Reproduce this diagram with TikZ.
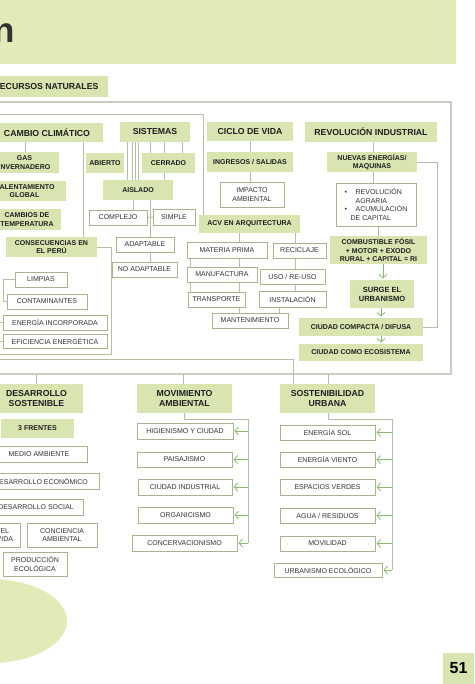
\documentclass[tikz,border=0pt]{standalone}
\usepackage{fontspec}
\setmainfont{Liberation Sans}
\usetikzlibrary{arrows.meta,backgrounds}
\definecolor{hdr}{HTML}{E0EBB8}
\definecolor{gfill}{HTML}{D8E5B0}
\definecolor{bord}{HTML}{A8B48F}
\definecolor{lnc}{HTML}{B4BDA6}
\definecolor{arr}{HTML}{8DB870}
\definecolor{frm}{HTML}{C9CDC2}
\definecolor{txt}{HTML}{1E1E1E}
\tikzset{
 base/.style={inner sep=0pt, outer sep=0pt, align=center, text=txt},
 gA/.style={base, fill=gfill, font=\fontsize{8.7}{10.3}\selectfont\bfseries},
 gB/.style={base, fill=gfill, font=\fontsize{7}{8.4}\selectfont\bfseries},
 wbox/.style={base, fill=white, draw=bord, line width=0.8pt, font=\fontsize{7}{8.6}\selectfont, text=black!80},
 ln/.style={draw=lnc, line width=0.8pt},
 ar/.style={draw=arr, line width=0.8pt, shorten >=1.5pt, -{Straight Barb[length=3.5pt,width=8pt]}},
 frame/.style={draw=frm, line width=1.4pt},
}
\newcommand\BX[7]{\pgfmathsetmacro\bxcx{(#3+#5)/2}\pgfmathsetmacro\bxcy{(#4+#6)/2}\pgfmathsetmacro\bxw{#5-#3}\pgfmathsetmacro\bxh{#6-#4}\node[#1, minimum width=\bxw pt, minimum height=\bxh pt] (#2) at (\bxcx,\bxcy) {#7};}
\begin{document}
\begin{tikzpicture}[x=1pt,y=-1pt]
\useasboundingbox (0,0) rectangle (474,684);
\clip (0,0) rectangle (474,684);
\fill[hdr] (0,0) rectangle (456,64);
\fill[hdr] (-10,621) ellipse [x radius=77, y radius=42];
\node[base, anchor=base west, text=black!80, font=\fontsize{35}{40}\selectfont\bfseries] (title) at (-6,43) {n};
\BX{gA}{RN}{-16}{76}{108}{97}{RECURSOS NATURALES}
% level 1
\BX{gA}{CC}{-9}{123}{103}{142}{CAMBIO CLIMÁTICO}
\BX{gA}{SIS}{120}{122}{190}{142}{SISTEMAS}
\BX{gA}{CIC}{207}{122}{293}{141}{CICLO DE VIDA}
\BX{gA}{REV}{305}{122}{437}{142}{REVOLUCIÓN INDUSTRIAL}
% cambio climatico
\BX{gB}{GAS}{-10}{152}{59}{173}{GAS\\INVERNADERO}
\BX{gB}{CAL}{-17}{181}{66}{201}{CALENTAMIENTO\\GLOBAL}
\BX{gB}{CAM}{-7}{209}{61}{230}{CAMBIOS DE\\TEMPERATURA}
\BX{gB}{CONS}{6}{237}{97}{257}{CONSECUENCIAS EN\\EL PERÚ}
\BX{wbox}{LIM}{15}{272}{67}{287}{LIMPIAS}
\BX{wbox}{CONT}{7}{294}{87}{309}{CONTAMINANTES}
\BX{wbox}{EINC}{3}{315}{107}{330}{ENERGÍA INCORPORADA}
\BX{wbox}{EFI}{3}{334}{107}{348}{EFICIENCIA ENERGÉTICA}
% sistemas
\BX{gB}{ABI}{86}{153}{124}{173}{ABIERTO}
\BX{gB}{CER}{142}{153}{195}{173}{CERRADO}
\BX{gB}{AIS}{103}{180}{173}{200}{AISLADO}
\BX{wbox}{COMP}{89}{210}{147}{225}{COMPLEJO}
\BX{wbox}{SIMP}{153}{209}{195}{225}{SIMPLE}
\BX{wbox}{ADAP}{116}{237}{174}{252}{ADAPTABLE}
\BX{wbox}{NOAD}{112}{262}{177}{277}{NO ADAPTABLE}
% ciclo de vida
\BX{gB}{ING}{207}{152}{293}{172}{INGRESOS / SALIDAS}
\BX{wbox}{IMP}{220}{182}{284}{207}{IMPACTO\\AMBIENTAL}
\BX{gB}{ACV}{199}{215}{300}{233}{ACV EN ARQUITECTURA}
\BX{wbox}{MP}{187}{242}{267}{258}{MATERIA PRIMA}
\BX{wbox}{REC}{273}{243}{326}{258}{RECICLAJE}
\BX{wbox}{MAN}{187}{267}{257}{282}{MANUFACTURA}
\BX{wbox}{USO}{260}{269}{325}{284}{USO / RE-USO}
\BX{wbox}{TRA}{188}{292}{245}{307}{TRANSPORTE}
\BX{wbox}{INS}{259}{291}{326}{307}{INSTALACIÓN}
\BX{wbox}{MANT}{212}{313}{288}{328}{MANTENIMIENTO}
% revolucion industrial
\BX{gB}{NUE}{327}{152}{417}{172}{NUEVAS ENERGÍAS/\\MAQUINAS}
\BX{wbox, align=left}{BUL}{336}{183}{416}{226}{\makebox[11pt][l]{•}REVOLUCIÓN\\\hspace*{11pt}AGRARIA\\\makebox[11pt][l]{•}ACUMULACIÓN\\\hspace*{6pt}DE CAPITAL}
\BX{gB}{COMB}{330}{236}{427}{264}{COMBUSTIBLE FÓSIL\\+ MOTOR + EXODO\\RURAL + CAPITAL = RI}
\BX{gB, font=\fontsize{7.5}{9}\selectfont\bfseries}{SUR}{350}{280}{414}{308}{SURGE EL\\URBANISMO}
\BX{gB}{CCD}{299}{318}{423}{336}{CIUDAD COMPACTA / DIFUSA}
\BX{gB}{ECO}{299}{344}{423}{361}{CIUDAD COMO ECOSISTEMA}
% bottom
\BX{gA}{DS}{-10}{384}{83}{413}{DESARROLLO\\SOSTENIBLE}
\BX{gA}{MA}{137}{384}{232}{413}{MOVIMIENTO\\AMBIENTAL}
\BX{gA}{SU}{280}{384}{375}{413}{SOSTENIBILIDAD\\URBANA}
\BX{gB}{TF}{1}{419}{74}{438}{3 FRENTES}
\BX{wbox}{MED}{-9}{446}{87}{462}{MEDIO AMBIENTE}
\BX{wbox}{DEC}{-17}{473}{99}{489}{DESARROLLO ECONÓMICO}
\BX{wbox}{DSO}{-11}{499}{83}{515}{DESARROLLO SOCIAL}
\BX{wbox}{NIV}{-22}{523}{20}{547}{NIVEL\\DE VIDA}
\BX{wbox}{CON}{27}{523}{97}{547}{CONCIENCIA\\AMBIENTAL}
\BX{wbox}{PRO}{3}{552}{67}{576}{PRODUCCIÓN\\ECOLÓGICA}
\BX{wbox}{HIG}{137}{423}{233}{439}{HIGIENISMO Y CIUDAD}
\BX{wbox}{PAI}{137}{452}{232}{467}{PAISAJISMO}
\BX{wbox}{CIN}{138}{479}{232}{495}{CIUDAD INDUSTRIAL}
\BX{wbox}{ORG}{138}{507}{233}{523}{ORGANICISMO}
\BX{wbox}{CONC}{132}{535}{237}{551}{CONCERVACIONISMO}
\BX{wbox}{SOL}{280}{425}{375}{440}{ENERGÍA SOL}
\BX{wbox}{VIE}{280}{452}{375}{467}{ENERGÍA VIENTO}
\BX{wbox}{ESP}{280}{479}{375}{495}{ESPACIOS VERDES}
\BX{wbox}{AGU}{280}{508}{375}{523}{AGUA / RESIDUOS}
\BX{wbox}{MOV}{280}{536}{375}{551}{MOVILIDAD}
\BX{wbox}{URB}{274}{563}{382}{577}{URBANISMO ECOLÓGICO}
% page number
\BX{gB, font=\fontsize{16}{18}\selectfont\bfseries, text=black}{PG}{443}{653}{474}{684}{51}
\begin{scope}[on background layer]
% frames
\draw[frame] (0,102) -- (451,102) -- (451,374) -- (0,374);
\draw[ln] (0,114) -- (203,114) -- (203,0 |- ACV.north);
\draw[ln] (0,359) -- (293,359) -- (293,0 |- SU.north);
\draw[ln] (36,374) -- (36,0 |- DS.north);
\draw[ln] (183,374) -- (183,0 |- MA.north);
\draw[ln] (328,374) -- (328,0 |- SU.north);
% cambio climatico
\draw[ln] (25,0 |- CC.south) -- (25,0 |- GAS.north);
\draw[ln] (83,0 |- CC.south) -- (83,0 |- CONS.north);
\draw[ln] (CONS.east) -- (111,0 |- CONS.east) -- (111,354) -- (0,354);
\draw[ln] (LIM.west) -- (3,0 |- LIM.west) -- (3,0 |- CONT.west) -- (CONT.west);
\draw[ln] (0,0 |- EINC.west) -- (EINC.west);
\draw[ln] (0,0 |- EFI.west) -- (EFI.west);
% sistemas
\foreach \xx in {127,132,135,138} {\draw[ln] (\xx,0 |- SIS.south) -- (\xx,0 |- AIS.north);}
\foreach \xx in {150,164,182} {\draw[ln] (\xx,0 |- SIS.south) -- (\xx,0 |- CER.north);}
\draw[ln] (164,0 |- CER.south) -- (164,0 |- AIS.north);
\draw[ln] (133,0 |- AIS.south) -- (133,0 |- COMP.north);
\draw[ln] (150,0 |- AIS.south) -- (150,0 |- NOAD.north);
\draw[ln] (COMP.east) -- (SIMP.west);
% ciclo de vida
\draw[ln] (250,0 |- CIC.south) -- (250,0 |- IMP.north);
\draw[ln] (239,0 |- ACV.south) -- (239,0 |- MANT.north);
\draw[ln] (190,0 |- MP.south) -- (190,0 |- TRA.north);
\draw[ln] (295,0 |- ACV.south) -- (295,0 |- INS.north);
\draw[ln] (279,0 |- INS.south) -- (279,0 |- MANT.north);
% revolucion
\draw[ln] (373,0 |- REV.south) -- (373,0 |- BUL.north);
\draw[ln] (378,0 |- BUL.south) -- (378,0 |- COMB.north);
\draw[ln] (NUE.east) -- (437,0 |- NUE.east) -- (437,0 |- CCD.east) -- (CCD.east);
\draw[ar] (383,0 |- COMB.south) -- (383,0 |- SUR.north);
\draw[ar] (381,0 |- SUR.south) -- (381,0 |- CCD.north);
\draw[ar] (381,0 |- CCD.south) -- (381,0 |- ECO.north);
% movimiento ambiental
\draw[ln] (184,0 |- MA.south) -- (184,419) -- (248,419) -- (248,0 |- CONC.east);
\foreach \nn in {HIG,PAI,CIN,ORG,CONC} {\draw[ar] (248,0 |- \nn.east) -- (\nn.east);}
% sostenibilidad urbana
\draw[ln] (328,0 |- SU.south) -- (328,419) -- (392,419) -- (392,0 |- URB.east);
\foreach \nn in {SOL,VIE,ESP,AGU,MOV,URB} {\draw[ar] (392,0 |- \nn.east) -- (\nn.east);}
\end{scope}
\end{tikzpicture}
\end{document}
